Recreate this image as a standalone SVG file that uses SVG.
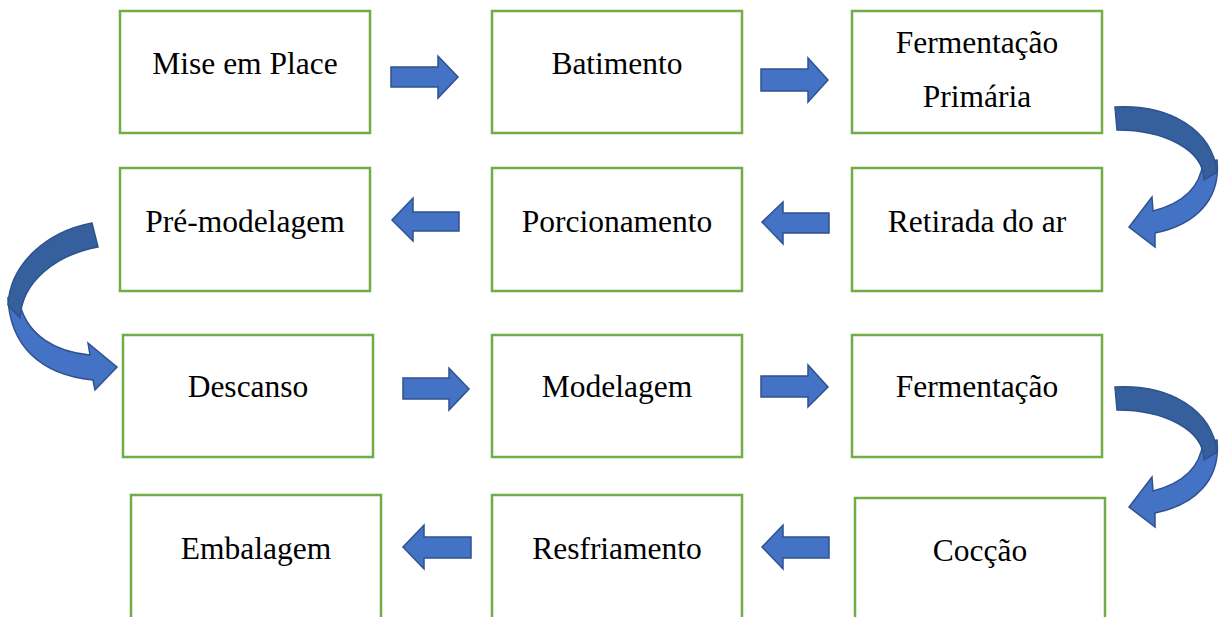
<svg xmlns="http://www.w3.org/2000/svg" width="1219" height="617" viewBox="0 0 1219 617">
<defs>
<style>
.box{fill:#fff;stroke:#70AD47;stroke-width:2.5}
.lbl{font-family:"Liberation Serif","Times New Roman",serif;font-size:31.5px;fill:#000;text-anchor:middle}
.arr{fill:#4472C4;stroke:#2F528F;stroke-width:1.5;stroke-linejoin:miter}
.dark{fill:#365F9E;stroke:#2F528F;stroke-width:1.5}
</style>
</defs>
<rect width="1219" height="617" fill="#fff"/>
<g id="n1"><rect class="box" x="120" y="11" width="250" height="122"/><text class="lbl" x="245" y="74">Mise em Place</text></g>
<g id="n2"><rect class="box" x="492" y="11" width="250" height="122"/><text class="lbl" x="617" y="74">Batimento</text></g>
<g id="n3"><rect class="box" x="852" y="11" width="250" height="122"/><text class="lbl" x="977" y="53">Fermentação</text><text class="lbl" x="977" y="107">Primária</text></g>
<g id="n4"><rect class="box" x="852" y="168" width="250" height="123"/><text class="lbl" x="977" y="232">Retirada do ar</text></g>
<g id="n5"><rect class="box" x="492" y="168" width="250" height="123"/><text class="lbl" x="617" y="232">Porcionamento</text></g>
<g id="n6"><rect class="box" x="120" y="168" width="250" height="123"/><text class="lbl" x="245" y="232">Pré-modelagem</text></g>
<g id="n7"><rect class="box" x="123" y="335" width="250" height="122"/><text class="lbl" x="248" y="397">Descanso</text></g>
<g id="n8"><rect class="box" x="492" y="335" width="250" height="122"/><text class="lbl" x="617" y="397">Modelagem</text></g>
<g id="n9"><rect class="box" x="852" y="335" width="250" height="122"/><text class="lbl" x="977" y="397">Fermentação</text></g>
<g id="n10"><rect class="box" x="855" y="498" width="250" height="130"/><text class="lbl" x="980" y="561">Cocção</text></g>
<g id="n11"><rect class="box" x="492" y="495" width="250" height="130"/><text class="lbl" x="617" y="559">Resfriamento</text></g>
<g id="n12"><rect class="box" x="131" y="495" width="250" height="130"/><text class="lbl" x="256" y="559">Embalagem</text></g>
<g id="connectors">
<path class="arr" d="M391,67 H438 V56 L458,77 L438,98 V87 H391 Z"/>
<path class="arr" d="M761,69 H808 V58 L828,80 L808,102 V91 H761 Z"/>
<path class="arr" d="M829,213 H783 V202 L762,222 L783,244 V233 H829 Z"/>
<path class="arr" d="M459,212 H413 V198 L392,220 L413,241 V231 H459 Z"/>
<path class="arr" d="M403,378 H449 V368 L469,389 L449,410 V399 H403 Z"/>
<path class="arr" d="M761,376 H808 V365 L828,387 L808,407 V397 H761 Z"/>
<path class="arr" d="M829,537 H783 V525 L762,547 L783,569 V558 H829 Z"/>
<path class="arr" d="M471,537 H424 V525 L403,547 L424,569 V558 H471 Z"/>
<g id="curve1">
<path class="arr" d="M1217,160 C1221,200 1195,225 1155,233 L1155,247 L1129,227 L1152,197 L1153,211 C1180,204 1200,190 1203,162 Z"/>
<path class="dark" d="M1115,107 C1170,104 1212,130 1217,172 L1204,180 C1204,150 1165,130 1117,130 Z"/>
</g>
<g id="curve3" transform="translate(0,280)">
<path class="arr" d="M1217,160 C1221,200 1195,225 1155,233 L1155,247 L1129,227 L1152,197 L1153,211 C1180,204 1200,190 1203,162 Z"/>
<path class="dark" d="M1115,107 C1170,104 1212,130 1217,172 L1204,180 C1204,150 1165,130 1117,130 Z"/>
</g>
<g id="curve2">
<path class="arr" d="M8,298 C10,345 40,375 93,380 L95,390 L117,367 L88,343 L90,355 C55,352 28,335 20,305 Z"/>
<path class="dark" d="M92,223 C45,232 10,265 8,305 L20,318 C22,282 55,255 98,247 Z"/>
</g>
</g>
</svg>
